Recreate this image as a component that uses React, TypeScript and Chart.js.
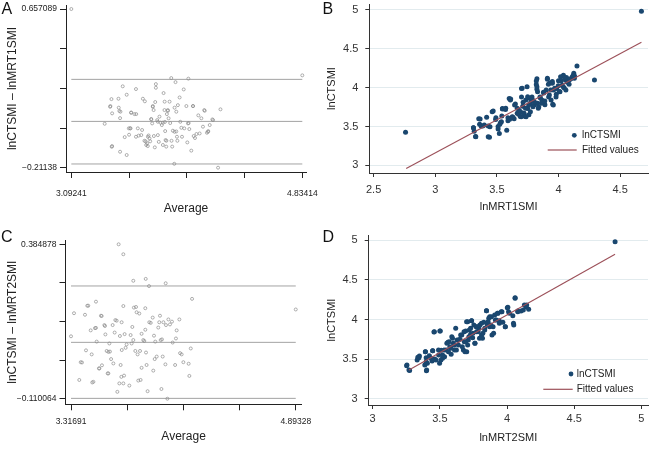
import React, { useEffect, useRef } from "react";
import { Chart, registerables } from "chart.js";

Chart.register(...registerables);

const FONT = "'Liberation Sans', Arial, Helvetica, sans-serif";

// ---------------- Panel A : Bland-Altman, CT vs MRT1 ----------------
const aAverage = [
  3.09241, 4.83414, 3.344, 3.385, 3.395, 3.4, 3.4, 3.448, 3.45, 3.455,
  3.46, 3.46, 3.48, 3.495, 3.51, 3.51, 3.526, 3.528, 3.536, 3.543,
  3.568, 3.58, 3.58, 3.594, 3.6, 3.626, 3.632, 3.647, 3.652, 3.657,
  3.664, 3.67, 3.675, 3.682, 3.687, 3.695, 3.702, 3.707, 3.713, 3.715,
  3.722, 3.725, 3.73, 3.73, 3.74, 3.745, 3.752, 3.757, 3.765, 3.775,
  3.783, 3.788, 3.795, 3.798, 3.8, 3.803, 3.808, 3.813, 3.82, 3.826,
  3.833, 3.838, 3.846, 3.848, 3.853, 3.858, 3.869, 3.871, 3.878, 3.884,
  3.889, 3.896, 3.909, 3.914, 3.922, 3.927, 3.94, 3.944, 3.96, 3.967,
  3.975, 3.977, 3.982, 3.997, 4.01, 4.015, 4.025, 4.05, 4.06, 4.073,
  4.085, 4.095, 4.115, 4.125, 4.136, 4.156, 4.199, 4.217,
  3.387, 3.463, 3.544, 3.582, 3.707, 3.796, 3.821, 3.884, 4.01, 4.098,
  4.161, 3.539, 3.62, 3.695, 3.745, 3.783, 3.871, 3.972, 4.036, 4.123,
  3.644, 3.669, 3.809, 3.892, 3.397,
];
const aDifference = [
  0.657089, 0.294, 0.029, 0.122, 0.164, 0.086, -0.093, 0.166, 0.117, 0.099,
  0.06, -0.124, 0.234, -0.044, 0.188, -0.142, 0.004, -0.031, 0.004, 0.09,
  0.082, 0.219, -0.042, 0.004, -0.036, -0.005, 0.166, 0.152, -0.067, -0.087,
  -0.078, -0.042, -0.035, -0.051, -0.067, 0.055, 0.031, 0.122, 0.104, -0.038,
  -0.1, 0.148, 0.226, 0.246, 0.049, -0.033, -0.07, 0.068, 0.035, 0.022,
  -0.087, 0.197, 0.104, 0.039, -0.011, -0.06, -0.096, 0.082, 0.104, 0.059,
  0.15, 0.033, 0.279, -0.064, -0.096, -0.009, -0.19, 0.117, 0.257, -0.013,
  -0.042, 0.131, 0.173, 0.04, 0.007, -0.042, 0.217, 0.004, 0.126, -0.073,
  0.276, 0.033, 0.0, -0.118, 0.126, -0.038, -0.049, 0.075, -0.024, 0.059,
  0.013, 0.104, -0.02, -0.011, 0.022, 0.053, -0.21138, 0.108,
  0.126, 0.095, 0.09, 0.082, 0.126, 0.15, 0.1, 0.095, 0.126, 0.1,
  0.049, 0.004, -0.033, 0.053, 0.04, 0.035, -0.015, 0.031, -0.027, -0.015,
  -0.064, -0.093, -0.064, -0.064, -0.097,
];
const aMeanDiff = 0.042;
const aUpperLimit = 0.272;
const aLowerLimit = -0.191;
const aLineRange = [3.09241, 4.83414];
const aXTicks = [3.09241, 3.527843, 3.963275, 4.398708, 4.83414];
const aXTickLabels = ["3.09241", "", "", "", "4.83414"];
const aYTicks = [-0.21138, 0.005738, 0.222855, 0.439972, 0.657089];
const aYTickLabels = ["\u22120.21138", "", "", "", "0.657089"];

// ---------------- Panel B : lnCTSMI vs lnMRT1SMI ----------------
const bMRT1 = [
  2.759, 4.673, 4.292, 4.15, 3.31, 3.316, 3.327, 3.353, 3.36, 3.385,
  3.417, 3.43, 3.44, 3.47, 3.49, 3.51, 3.52, 3.53, 3.54, 3.545,
  3.57, 3.58, 3.59, 3.6, 3.61, 3.63, 3.64, 3.65, 3.665, 3.68,
  3.69, 3.7, 3.7, 3.71, 3.72, 3.73, 3.735, 3.745, 3.75, 3.76,
  3.77, 3.77, 3.785, 3.79, 3.805, 3.82, 3.825, 3.825, 3.83, 3.84,
  3.85, 3.865, 3.88, 3.89, 3.9, 3.91, 3.92, 3.93, 3.94, 3.95,
  3.953, 3.96, 3.98, 3.985, 4.0, 4.007, 4.017, 4.03, 4.04, 4.047,
  4.057, 4.065, 4.073, 4.087, 4.105, 4.113, 4.124, 4.13,
  3.31, 3.329, 3.364, 3.372, 3.398, 3.43, 3.444, 3.462, 3.492, 3.51,
  3.524, 3.537, 3.545, 3.572, 3.59, 3.604, 3.612, 3.625, 3.644, 3.665,
  3.676, 3.692, 3.697, 3.705, 3.713, 3.718, 3.732, 3.737, 3.75, 3.758,
  3.772, 3.782, 3.793, 3.804, 3.82, 3.825, 3.83, 3.836, 3.852, 3.862,
  3.878, 3.889, 3.91, 3.918, 3.926, 3.937, 3.95, 3.958, 3.969, 3.982,
  3.998, 4.012, 4.022, 4.038, 4.049, 4.06, 4.07, 4.086, 4.097, 4.118,
  4.129,
];
const bCT = [
  3.425, 4.983, 4.099, 4.28, 3.485, 3.44, 3.37, 3.6, 3.53, 3.506,
  3.618, 3.506, 3.36, 3.7, 3.59, 3.5, 3.41, 3.55, 3.635, 3.73,
  3.72, 3.45, 3.575, 3.86, 3.84, 3.62, 3.6, 3.79, 3.67, 3.71,
  3.63, 3.99, 3.88, 3.76, 3.67, 3.63, 3.84, 4.01, 3.73, 3.65,
  3.86, 3.8, 3.88, 3.84, 3.78, 4.04, 4.115, 3.98, 3.8, 3.75,
  3.88, 3.84, 3.93, 3.78, 3.97, 4.107, 3.88, 4.06, 3.84, 4.08,
  3.785, 3.97, 3.88, 3.99, 4.09, 3.95, 4.14, 4.03, 4.16, 3.995,
  4.099, 4.13, 4.07, 4.1, 4.12, 4.14, 4.185, 4.15,
  3.484, 3.368, 3.596, 3.506, 3.519, 3.368, 3.497, 3.69, 3.613, 3.467,
  3.528, 3.562, 3.725, 3.734, 3.613, 3.592, 3.854, 3.626, 3.777, 3.734,
  3.657, 3.69, 3.626, 3.992, 3.811, 3.67, 3.734, 3.626, 3.883, 3.777,
  3.69, 3.841, 3.755, 3.819, 4.086, 4.012, 3.948, 3.734, 3.871, 3.798,
  3.94, 3.828, 4.12, 4.043, 3.905, 3.97, 4.056, 3.777, 3.992, 3.914,
  4.025, 3.948, 4.086, 4.012, 4.128, 3.97, 4.077, 4.043, 4.111, 4.154,
  4.12,
];
const bFitX = [2.764, 4.673];
const bFitY = [2.958, 4.584];
const bXTicks = [2.5, 3, 3.5, 4, 4.5];
const bXTickLabels = ["2.5", "3", "3.5", "4", "4.5"];
const bYTicks = [3, 3.5, 4, 4.5, 5];
const bYTickLabels = ["3", "3.5", "4", "4.5", "5"];

// ---------------- Panel C : Bland-Altman, CT vs MRT2 ----------------
const cAverage = [
  3.651, 3.684, 3.754, 3.841, 3.864, 3.981, 4.166, 4.89328, 3.31691, 3.338,
  3.375, 3.394, 3.415, 3.422, 3.431, 3.455, 3.462, 3.474, 3.485, 3.492,
  3.497, 3.513, 3.527, 3.534, 3.551, 3.558, 3.567, 3.574, 3.586, 3.59,
  3.598, 3.609, 3.614, 3.623, 3.628, 3.637, 3.642, 3.656, 3.66, 3.665,
  3.67, 3.672, 3.684, 3.684, 3.689, 3.693, 3.7, 3.707, 3.726, 3.735,
  3.742, 3.747, 3.754, 3.758, 3.768, 3.773, 3.777, 3.784, 3.789, 3.796,
  3.801, 3.805, 3.812, 3.812, 3.824, 3.831, 3.838, 3.838, 3.843, 3.847,
  3.854, 3.866, 3.876, 3.89, 3.894, 3.899, 3.904, 3.908, 3.918, 3.929,
  3.936, 3.941, 3.946, 3.951, 3.955, 3.96, 3.965, 3.979, 3.983, 3.993,
  4.0, 4.011, 4.025, 4.03, 4.047, 4.053, 4.058, 4.077, 4.082, 4.093,
  4.105, 4.142, 4.147, 4.157,
  3.438, 3.532, 3.555, 3.466, 3.516, 3.579, 3.385, 3.579, 3.673, 3.492,
];
const cDifference = [
  0.384878, 0.353, 0.268, 0.274, 0.251, 0.26, 0.21, 0.176, 0.09, 0.164,
  -0.05, 0.006, 0.159, 0.045, 0.188, 0.109, 0.032, -0.056, 0.116, 0.201,
  0.073, -0.013, 0.156, -0.003, 0.126, 0.096, 0.043, -0.029, 0.067, 0.041,
  0.017, 0.126, 0.003, 0.102, 0.142, 0.14, -0.088, -0.061, 0.091, -0.002,
  -0.04, 0.135, 0.187, -0.061, -0.036, 0.097, 0.053, 0.064, -0.068, 0.094,
  0.067, 0.12, 0.078, 0.182, 0.043, 0.184, 0.167, 0.032, -0.052, 0.163,
  0.043, -0.05, 0.098, -0.011, 0.078, 0.075, 0.18, 0.111, 0.038, -0.002,
  -0.086, 0.135, 0.133, 0.15, -0.02, 0.092, 0.017, 0.073, 0.025, 0.118,
  0.135, 0.156, 0.078, -0.079, 0.08, 0.025, 0.135, 0.0, 0.126, -0.110064,
  0.144, 0.128, 0.137, 0.07, -0.002, 0.083, 0.109, 0.144, 0.036, 0.032,
  0.007, 0.002, -0.037, 0.051,
  0.188, 0.155, 0.123, -0.058, -0.013, -0.029, 0.007, 0.04, 0.046, 0.117,
];
const cMeanDiff = 0.0706;
const cUpperLimit = 0.2513;
const cLowerLimit = -0.109;
const cLineRange = [3.31691, 4.89328];
const cXTicks = [3.31691, 3.711003, 4.105095, 4.499188, 4.89328];
const cXTickLabels = ["3.31691", "", "", "", "4.89328"];
const cYTicks = [-0.110064, 0.013672, 0.137407, 0.261143, 0.384878];
const cYTickLabels = ["\u22120.110064", "", "", "", "0.384878"];

// ---------------- Panel D : lnCTSMI vs lnMRT2SMI ----------------
const dMRT2 = [
  3.253, 3.275, 3.331, 3.344, 3.388, 3.393, 3.398, 3.4, 3.407, 3.422,
  3.442, 3.447, 3.456, 3.461, 3.491, 3.498, 3.503, 3.51, 3.52, 3.535,
  3.547, 3.56, 3.564, 3.574, 3.584, 3.589, 3.601, 3.609, 3.618, 3.628,
  3.638, 3.65, 3.663, 3.675, 3.682, 3.687, 3.692, 3.699, 3.707, 3.712,
  3.719, 3.729, 3.736, 3.744, 3.753, 3.761, 3.773, 3.78, 3.79, 3.798,
  3.81, 3.817, 3.827, 3.834, 3.847, 3.854, 3.864, 3.871, 3.879, 3.888,
  3.896, 3.908, 3.92, 3.933, 3.942, 3.957, 3.969, 3.987, 4.002, 4.011,
  4.043, 4.05, 4.06, 4.08, 4.104, 4.129, 4.141, 4.161, 4.804,
  3.255, 3.27, 3.336, 3.348, 3.392, 3.398, 3.402, 3.434, 3.446, 3.459,
  3.471, 3.49, 3.5, 3.508, 3.52, 3.532, 3.552, 3.569, 3.582, 3.594,
  3.606, 3.623, 3.638, 3.655, 3.667, 3.68, 3.692, 3.7, 3.707, 3.716,
  3.729, 3.736, 3.746, 3.761, 3.77, 3.785, 3.795, 3.81, 3.82, 3.834,
  3.847, 3.859, 3.871, 3.884, 3.9, 3.913, 3.928, 3.943, 3.962, 3.987,
  4.006, 4.018, 4.048, 4.06, 4.08, 4.121, 4.146,
];
const dCT = [
  3.419, 3.36, 3.491, 3.52, 3.428, 3.595, 3.52, 3.356, 3.449, 3.545,
  3.478, 3.608, 3.843, 3.503, 3.553, 3.449, 3.855, 3.612, 3.512, 3.532,
  3.616, 3.713, 3.595, 3.658, 3.562, 3.784, 3.7, 3.616, 3.889, 3.742,
  3.679, 3.751, 3.805, 3.616, 3.721, 3.595, 3.855, 3.973, 3.679, 3.742,
  3.868, 3.813, 3.985, 3.771, 3.931, 3.7, 3.847, 3.91, 3.889, 3.931,
  3.805, 3.763, 3.964, 3.868, 4.111, 3.931, 4.015, 4.036, 3.931, 3.805,
  3.91, 4.057, 3.994, 4.078, 3.985, 4.099, 3.964, 3.91, 4.149, 4.099,
  4.048, 3.931, 4.275, 4.107, 4.107, 4.182, 4.161, 4.128, 4.979,
  3.428, 3.365, 3.524, 3.541, 3.595, 3.469, 3.365, 3.512, 3.608, 3.847,
  3.49, 3.616, 3.855, 3.49, 3.553, 3.616, 3.7, 3.721, 3.638, 3.763,
  3.679, 3.616, 3.742, 3.805, 3.658, 3.847, 3.721, 3.595, 3.972, 3.784,
  3.889, 3.985, 3.826, 3.7, 3.91, 3.847, 3.763, 3.952, 3.826, 3.889,
  4.111, 3.972, 3.91, 4.036, 3.826, 3.994, 4.078, 3.952, 4.098, 3.91,
  4.153, 4.078, 3.952, 4.267, 4.098, 4.119, 4.182,
];
const dFitX = [3.27, 4.804];
const dFitY = [3.365, 4.82];
const dXTicks = [3, 3.5, 4, 4.5, 5];
const dXTickLabels = ["3", "3.5", "4", "4.5", "5"];
const dYTicks = [3, 3.5, 4, 4.5, 5];
const dYTickLabels = ["3", "3.5", "4", "4.5", "5"];

// ---------------- styling ----------------
const NAVY = "#1a476f";
const FIT = "#9c5059";
const BA_POINT = "#8c8c8c";
const BA_LINE = "#a3a3a3";
const GRID = "#e2ebee";

type AxisSpec = {
  min: number;
  max: number;
  ticks: number[];
  labels: string[];
  size: number;
  tickLength: number;
  tickPadding: number;
  fontSize: number;
  title: string;
  titleSize: number;
  titlePad: number;
  color: string;
  grid?: string;
};

function scale(axis: "x" | "y", s: AxisSpec) {
  return {
    type: "linear",
    position: axis === "x" ? "bottom" : "left",
    min: s.min,
    max: s.max,
    afterBuildTicks: (sc: any) => {
      sc.ticks = s.ticks.map((v) => ({ value: v }));
    },
    afterFit: (sc: any) => {
      if (axis === "x") {
        sc.height = s.size;
        sc.paddingLeft = 0;
        sc.paddingRight = 0;
      } else {
        sc.width = s.size;
        sc.paddingTop = 0;
        sc.paddingBottom = 0;
      }
    },
    ticks: {
      autoSkip: false,
      maxRotation: 0,
      minRotation: 0,
      padding: s.tickPadding,
      color: s.color,
      font: { family: FONT, size: s.fontSize },
      callback: (_v: any, i: number) => s.labels[i],
    },
    grid: {
      display: true,
      drawOnChartArea: !!s.grid,
      color: s.grid ?? "rgba(0,0,0,0)",
      tickColor: s.color,
      tickLength: s.tickLength,
      tickWidth: 1,
      drawTicks: true,
      lineWidth: 1,
    },
    border: { display: true, color: s.color, width: 1 },
    title: {
      display: true,
      text: s.title,
      color: "#222",
      font: { family: FONT, size: s.titleSize },
      padding: axis === "x" ? { top: 0, bottom: s.titlePad } : { top: s.titlePad, bottom: 0 },
    },
  };
}

type LegendSpec = {
  dotX: number;
  dotY: number;
  lineX1: number;
  lineX2: number;
  lineY: number;
  textX: number;
};

function stataLegend(spec: LegendSpec) {
  return {
    id: "stataLegend",
    afterDraw(chart: any) {
      const ctx = chart.ctx;
      const ds = chart.data.datasets;
      ctx.save();
      ctx.fillStyle = NAVY;
      ctx.beginPath();
      ctx.arc(spec.dotX, spec.dotY, 2.4, 0, Math.PI * 2);
      ctx.fill();
      ctx.strokeStyle = FIT;
      ctx.lineWidth = 1.2;
      ctx.beginPath();
      ctx.moveTo(spec.lineX1, spec.lineY);
      ctx.lineTo(spec.lineX2, spec.lineY);
      ctx.stroke();
      ctx.fillStyle = "#222";
      ctx.font = `10px ${FONT}`;
      ctx.textBaseline = "middle";
      ctx.textAlign = "left";
      ctx.fillText(ds[0].label, spec.textX, spec.dotY);
      ctx.fillText(ds[1].label, spec.textX, spec.lineY);
      ctx.restore();
    },
  };
}

function baConfig(
  avg: number[],
  diff: number[],
  range: number[],
  levels: number[],
  padding: any,
  x: AxisSpec,
  y: AxisSpec
) {
  const lineDs = levels.map((lv) => ({
    label: "limit",
    data: range.map((r) => ({ x: r, y: lv })),
    showLine: true,
    borderColor: BA_LINE,
    borderWidth: 1,
    pointRadius: 0,
    order: 2,
  }));
  return {
    type: "scatter",
    data: {
      datasets: [
        {
          label: "points",
          data: avg.map((a, i) => ({ x: a, y: diff[i] })),
          pointRadius: 1.5,
          pointBorderWidth: 0.7,
          pointBackgroundColor: "rgba(0,0,0,0)",
          pointBorderColor: BA_POINT,
          order: 1,
        },
        ...lineDs,
      ],
    },
    options: {
      responsive: false,
      animation: false,
      devicePixelRatio: 1,
      layout: { padding },
      plugins: { legend: { display: false }, tooltip: { enabled: false } },
      scales: { x: scale("x", x), y: scale("y", y) },
    },
  };
}

function fitConfig(
  xs: number[],
  ys: number[],
  fx: number[],
  fy: number[],
  padding: any,
  x: AxisSpec,
  y: AxisSpec,
  legend: LegendSpec
) {
  return {
    type: "scatter",
    data: {
      datasets: [
        {
          label: "lnCTSMI",
          data: xs.map((v, i) => ({ x: v, y: ys[i] })),
          pointRadius: 2.5,
          pointBorderWidth: 0,
          pointBackgroundColor: NAVY,
          order: 1,
        },
        {
          label: "Fitted values",
          data: fx.map((v, i) => ({ x: v, y: fy[i] })),
          showLine: true,
          borderColor: FIT,
          borderWidth: 1.1,
          pointRadius: 0,
          order: 0,
        },
      ],
    },
    options: {
      responsive: false,
      animation: false,
      devicePixelRatio: 1,
      layout: { padding },
      plugins: { legend: { display: false }, tooltip: { enabled: false } },
      scales: { x: scale("x", x), y: scale("y", y) },
    },
    plugins: [stataLegend(legend)],
  };
}

const BA_TXT = "#222";
const SC_TXT = "#333";

const configA = () =>
  baConfig(
    aAverage,
    aDifference,
    aLineRange,
    [aUpperLimit, aMeanDiff, aLowerLimit],
    { left: 0, top: 5, right: 20, bottom: 0 },
    {
      min: 3.0523, max: 4.862, ticks: aXTicks, labels: aXTickLabels, size: 53,
      tickLength: 6, tickPadding: 11, fontSize: 8.5, title: "Average", titleSize: 12,
      titlePad: 8.8, color: BA_TXT,
    },
    {
      min: -0.2349, max: 0.679, ticks: aYTicks, labels: aYTickLabels, size: 66,
      tickLength: 6, tickPadding: 3, fontSize: 8.5, title: "lnCTSMI \u2013 lnMRT1SMI",
      titleSize: 12, titlePad: 5, color: BA_TXT,
    }
  );

const configC = () =>
  baConfig(
    cAverage,
    cDifference,
    cLineRange,
    [cUpperLimit, cMeanDiff, cLowerLimit],
    { left: 0, top: 15, right: 24.3, bottom: 0 },
    {
      min: 3.2783, max: 4.935, ticks: cXTicks, labels: cXTickLabels, size: 46.7,
      tickLength: 6, tickPadding: 6.3, fontSize: 8.5, title: "Average", titleSize: 12,
      titlePad: 6.8, color: BA_TXT,
    },
    {
      min: -0.128, max: 0.3987, ticks: cYTicks, labels: cYTickLabels, size: 65.5,
      tickLength: 6, tickPadding: 3, fontSize: 8.5, title: "lnCTSMI \u2013 lnMRT2SMI",
      titleSize: 12, titlePad: 5, color: BA_TXT,
    }
  );

const configB = () =>
  fitConfig(
    bMRT1,
    bCT,
    bFitX,
    bFitY,
    { left: 0, top: 4, right: 0, bottom: 0 },
    {
      min: 2.4648, max: 4.7264, ticks: bXTicks, labels: bXTickLabels, size: 52,
      tickLength: 4, tickPadding: 6.4, fontSize: 11, title: "lnMRT1SMI", titleSize: 11,
      titlePad: 11.7, color: SC_TXT,
    },
    {
      min: 2.901, max: 5.077, ticks: bYTicks, labels: bYTickLabels, size: 43.3,
      tickLength: 4, tickPadding: 7, fontSize: 11, title: "lnCTSMI", titleSize: 11,
      titlePad: -1, color: SC_TXT, grid: GRID,
    },
    { dotX: 248.3, dotY: 135.3, lineX1: 221.7, lineX2: 250.7, lineY: 150, textX: 256 }
  );

const configD = () =>
  fitConfig(
    dMRT2,
    dCT,
    dFitX,
    dFitY,
    { left: 0, top: 10, right: 1, bottom: 0 },
    {
      min: 2.9705, max: 5.049, ticks: dXTicks, labels: dXTickLabels, size: 46,
      tickLength: 4, tickPadding: 3.7, fontSize: 11, title: "lnMRT2SMI", titleSize: 11,
      titlePad: 6.7, color: SC_TXT,
    },
    {
      min: 2.9245, max: 5.063, ticks: dYTicks, labels: dYTickLabels, size: 42.7,
      tickLength: 4, tickPadding: 7, fontSize: 11, title: "lnCTSMI", titleSize: 11,
      titlePad: -1, color: SC_TXT, grid: GRID,
    },
    { dotX: 245, dotY: 149, lineX1: 217.3, lineX2: 246.7, lineY: 164.3, textX: 250.7 }
  );

function Panel(props: { left: number; top: number; width: number; height: number; config: () => any }) {
  const ref = useRef<HTMLCanvasElement | null>(null);
  useEffect(() => {
    const chart = new Chart(ref.current as HTMLCanvasElement, props.config() as any);
    return () => chart.destroy();
  }, []);
  return (
    <canvas
      ref={ref}
      width={props.width}
      height={props.height}
      style={{ position: "absolute", left: props.left, top: props.top, width: props.width, height: props.height }}
    />
  );
}

const letterStyle = (left: number, top: number): React.CSSProperties => ({
  position: "absolute",
  left,
  top,
  fontFamily: FONT,
  fontSize: 16,
  lineHeight: "18px",
  color: "#111",
});

export default function App() {
  return (
    <div style={{ position: "absolute", left: 0, top: 0, width: 652, height: 451, background: "#fff", overflow: "hidden" }}>
      <Panel left={0} top={0} width={326} height={225} config={configA} />
      <Panel left={326} top={0} width={326} height={225} config={configB} />
      <Panel left={0} top={225} width={326} height={226} config={configC} />
      <Panel left={326} top={225} width={326} height={226} config={configD} />
      <div style={letterStyle(1.5, 0)}>A</div>
      <div style={letterStyle(322.5, 0)}>B</div>
      <div style={letterStyle(1, 228)}>C</div>
      <div style={letterStyle(322.5, 228)}>D</div>
    </div>
  );
}
